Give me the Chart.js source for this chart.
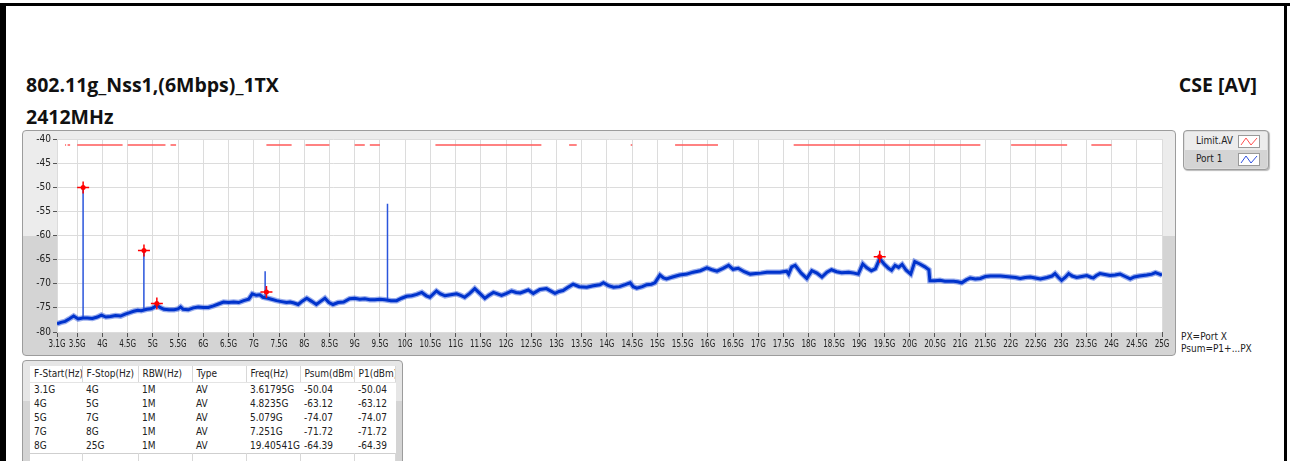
<!DOCTYPE html>
<html>
<head>
<meta charset="utf-8">
<script src="https://cdn.jsdelivr.net/npm/chart.js@4"></script>
<style>
  html, body { margin: 0; padding: 0; background: #fff; }
  body { width: 1290px; height: 461px; position: relative; overflow: hidden; font-family: "Open Sans", "Noto Sans", sans-serif; }
  .blk { position: absolute; background: #000; }
  .title { position: absolute; font-weight: bold; font-size: 19.5px; color: #111; white-space: nowrap; }
  .frame { position: absolute; left: 22px; top: 130px; width: 1152px; height: 224px; border: 1px solid #9c9c9c; border-radius: 4px;
           background: linear-gradient(#ececec 0, #ececec 105px, #d4d4d4 105px, #d4d4d4 100%); }
  #wrap { position: absolute; left: 22px; top: 131px; width: 1154px; height: 225px; }
  .legend { position: absolute; left: 1183px; top: 130px; width: 84px; height: 38px; border: 1px solid #9c9c9c; border-radius: 4px;
            background: #dcdcdc; box-shadow: 1px 1px 1px #bbb; font-family: "DejaVu Sans Condensed", sans-serif; font-size: 10px; color: #222; }
  .legend .row { position: absolute; left: 1px; width: 82px; height: 18px; }
  .legend .row span { position: absolute; left: 11px; top: 3px; }
  .legend svg { position: absolute; left: 53px; top: 3px; }
  .note { position: absolute; left: 1181px; font-family: "DejaVu Sans Condensed", sans-serif; font-size: 10px; color: #222; }
  .tframe { position: absolute; left: 22px; top: 360px; width: 379px; height: 110px; border: 1px solid #9c9c9c; border-radius: 4px;
            background: linear-gradient(#e6e6e6 0, #e6e6e6 40px, #d4d4d4 40px); }
  table { position: absolute; left: 30px; top: 366px; width: 365px; border-collapse: collapse; background: #fff; table-layout: fixed;
          font-family: "DejaVu Sans Condensed", sans-serif; font-size: 10px; color: #222; }
  td { height: 14px; padding: 0 0 0 4px; white-space: nowrap; overflow: hidden; line-height: 14px; }
  tr.head td { height: 16px; line-height: 16px; border-right: 1px solid #d8d8d8; border-bottom: 1px solid #e4e4e4; }
  tr.empty td { border-right: 1px solid #d8d8d8; border-top: 1px solid #cfcfcf; }
</style>
</head>
<body>
<div class="blk" style="left:0;top:3px;width:1290px;height:3px"></div>
<div class="blk" style="left:0;top:3px;width:6px;height:458px"></div>
<div class="blk" style="left:1284px;top:3px;width:3px;height:458px"></div>

<div class="title" style="left:26px;top:71px">802.11g_Nss1,(6Mbps)_1TX</div>
<div class="title" style="left:26px;top:103px">2412MHz</div>
<div class="title" style="right:33px;top:71px">CSE [AV]</div>

<div class="frame"></div>
<div id="wrap"><canvas id="chart"></canvas></div>

<div class="legend">
  <div class="row" style="top:1px;background:#ececec"><span>Limit.AV</span>
    <svg width="22" height="13"><rect x="0.5" y="0.5" width="21" height="12" fill="#fff" stroke="#999"/><polyline points="3,10 8,3 13,10 19,3" fill="none" stroke="#ff5050" stroke-width="1"/></svg></div>
  <div class="row" style="top:19px;background:#d4d4d4"><span>Port 1</span>
    <svg width="22" height="13"><rect x="0.5" y="0.5" width="21" height="12" fill="#fff" stroke="#999"/><polyline points="3,10 8,3 13,10 19,3" fill="none" stroke="#3050e0" stroke-width="1"/></svg></div>
</div>
<div class="note" style="top:331px">PX=Port X</div>
<div class="note" style="top:343px">Psum=P1+...PX</div>

<div class="tframe"></div>
<table id="tbl"></table>

<script>
// axis ticks
const X_TICKS_GHZ = [3.1, 3.5, 4, 4.5, 5, 5.5, 6, 6.5, 7, 7.5, 8, 8.5, 9, 9.5, 10, 10.5, 11, 11.5, 12, 12.5, 13, 13.5,
  14, 14.5, 15, 15.5, 16, 16.5, 17, 17.5, 18, 18.5, 19, 19.5, 20, 20.5, 21, 21.5, 22, 22.5, 23, 23.5, 24, 24.5, 25];
const Y_TICKS_DBM = [-80, -75, -70, -65, -60, -55, -50, -45, -40];

// Port 1 noise floor
const FREQ_GHZ = [
  3.10, 3.18, 3.26, 3.34, 3.43, 3.52, 3.61, 3.70, 3.80, 3.90, 3.98, 4.07, 4.16, 4.26, 4.36, 4.45, 4.54,
  4.62, 4.70, 4.77, 4.88, 4.96, 5.02, 5.08, 5.14, 5.22, 5.32, 5.42, 5.50, 5.55, 5.60, 5.70, 5.80, 5.90,
  6.00, 6.10, 6.20, 6.30, 6.40, 6.50, 6.60, 6.70, 6.80, 6.90, 6.97, 7.05, 7.12, 7.18, 7.28, 7.35,
  7.45, 7.55, 7.65, 7.72, 7.80, 7.88, 7.96, 8.05, 8.14, 8.24, 8.33, 8.41, 8.49, 8.57, 8.67, 8.78, 8.90, 9.00, 9.10, 9.20,
  9.30, 9.40, 9.50, 9.60, 9.72, 9.83, 9.93, 10.03, 10.13, 10.23, 10.33, 10.42, 10.49, 10.62, 10.70, 10.79, 10.90,
  11.02, 11.10, 11.18, 11.28, 11.38, 11.48, 11.58, 11.66, 11.75, 11.83, 11.91, 12.01, 12.11, 12.20, 12.28, 12.36, 12.44, 12.54, 12.67, 12.80,
  12.97, 13.05, 13.13, 13.22, 13.33, 13.45, 13.60, 13.73, 13.86, 13.93, 14.03, 14.13, 14.25, 14.36, 14.46, 14.52, 14.59, 14.70, 14.79, 14.88,
  14.95, 15.05, 15.12, 15.18, 15.30, 15.44, 15.58, 15.71, 15.85, 15.98, 16.08, 16.18, 16.30, 16.41, 16.50, 16.60, 16.72, 16.84, 16.95, 17.05,
  17.17, 17.30, 17.43, 17.56, 17.60, 17.66, 17.73, 17.85, 17.96, 18.06, 18.16, 18.26, 18.36, 18.45, 18.55, 18.65, 18.79, 18.90, 18.98, 19.07,
  19.15, 19.24, 19.32, 19.405, 19.50, 19.58, 19.64, 19.71, 19.78, 19.85, 19.93, 20.02, 20.10, 20.20, 20.30, 20.38, 20.40, 20.50, 20.60, 20.70,
  20.87, 20.95, 21.03, 21.12, 21.20, 21.30, 21.40, 21.50, 21.60, 21.70, 21.80, 21.90, 22.00, 22.10, 22.19, 22.29, 22.39, 22.49, 22.59, 22.72,
  22.82, 22.88, 22.95, 23.01, 23.08, 23.15, 23.22, 23.31, 23.41, 23.51, 23.60, 23.64, 23.70, 23.77, 23.87, 23.97, 24.07, 24.17, 24.27, 24.37,
  24.45, 24.55, 24.70, 24.80, 24.87, 24.95, 25.00
];
const PORT1_DBM = [
  -78.3, -78.0, -77.8, -77.3, -76.7, -77.3, -77.1, -77.1, -77.2, -76.9, -76.5, -76.9, -76.8, -76.6, -76.7, -76.3, -76.0,
  -75.7, -75.5, -75.6, -75.3, -75.2, -74.9, -74.4, -74.9, -75.3, -75.4, -75.4, -75.2, -74.8, -75.3, -75.4, -75.0, -74.8,
  -74.9, -74.9, -74.6, -74.2, -73.8, -73.9, -73.8, -73.9, -73.5, -73.2, -72.1, -72.4, -72.3, -72.8, -73.0, -73.2,
  -73.5, -73.7, -73.9, -73.8, -74.0, -74.3, -73.6, -73.0, -73.6, -74.3, -73.6, -73.0, -73.9, -74.3, -73.9, -73.8, -73.1, -73.0, -73.2, -73.1,
  -73.3, -73.3, -73.2, -73.3, -73.5, -73.5, -73.0, -72.6, -72.5, -72.2, -71.8, -72.5, -72.8, -71.5, -72.1, -72.5, -72.3,
  -72.1, -72.4, -72.8, -72.0, -71.0, -72.0, -73.0, -72.4, -71.8, -72.1, -72.4, -72.0, -71.5, -71.8, -71.9, -71.6, -71.3, -72.0, -71.2, -71.0,
  -72.0, -71.6, -71.4, -70.8, -70.1, -70.6, -70.7, -70.4, -70.2, -69.8, -70.4, -70.7, -70.6, -70.2, -69.8, -70.6, -70.9, -70.6, -70.2, -70.1,
  -69.8, -68.2, -68.8, -69.0, -68.6, -68.2, -68.0, -67.6, -67.3, -66.7, -67.1, -67.4, -66.8, -66.2, -67.0, -66.8, -67.5, -68.0, -67.9, -67.8,
  -67.6, -67.6, -67.6, -67.4, -68.0, -66.5, -66.2, -67.8, -68.9, -67.3, -67.8, -68.6, -67.6, -67.1, -67.5, -67.7, -67.6, -67.8, -68.0, -65.9,
  -66.7, -67.3, -66.9, -64.8, -66.0, -66.8, -67.2, -66.2, -66.6, -66.0, -67.2, -68.0, -65.4, -65.9, -66.5, -67.1, -69.4, -69.4, -69.3, -69.5,
  -69.5, -69.6, -69.8, -69.2, -68.8, -69.0, -68.9, -68.5, -68.4, -68.4, -68.4, -68.5, -68.6, -68.7, -68.9, -68.7, -68.6, -68.8, -69.0, -68.7,
  -68.4, -67.9, -68.7, -69.3, -68.7, -67.9, -68.4, -68.7, -68.5, -68.3, -68.7, -68.8, -68.3, -67.9, -68.1, -68.3, -68.2, -68.0, -68.5, -69.0,
  -68.6, -68.4, -68.2, -68.0, -67.7, -68.0, -68.2
];

// narrow spurs on top of the floor
const SPUR_FREQ_GHZ = [3.617, 4.822, 7.225, 9.650];
const SPUR_BASE_DBM = [-77.1, -75.5, -72.6, -73.3];
const SPUR_TOP_DBM = [-50.0, -63.1, -67.4, -53.4];

// Limit.AV, drawn only inside these bands
const LIMIT_AV_DBM = -41.25;
const LIMIT_START_GHZ = [3.26, 3.31, 3.5, 4.5, 5.35, 7.25, 8.025, 9.0, 9.3, 10.6, 13.25, 14.47, 15.35, 17.7, 22.01, 23.6];
const LIMIT_STOP_GHZ  = [3.28, 3.36, 4.4, 5.25, 5.46, 7.75, 8.5, 9.2, 9.5, 12.7, 13.4, 14.5, 16.2, 21.4, 23.12, 24.0];

// markers / table
const F_START = ['3.1G', '4G', '5G', '7G', '8G'];
const F_STOP = ['4G', '5G', '7G', '8G', '25G'];
const RBW = ['1M', '1M', '1M', '1M', '1M'];
const TYPE = ['AV', 'AV', 'AV', 'AV', 'AV'];
const MARKER_FREQ_GHZ = [3.61795, 4.8235, 5.079, 7.251, 19.40541];
const MARKER_FREQ_TXT = ['3.61795G', '4.8235G', '5.079G', '7.251G', '19.40541G'];
const PSUM_DBM = [-50.04, -63.12, -74.07, -71.72, -64.39];
const P1_DBM = [-50.04, -63.12, -74.07, -71.72, -64.39];
const HEADERS = ['F-Start(Hz)', 'F-Stop(Hz)', 'RBW(Hz)', 'Type', 'Freq(Hz)', 'Psum(dBm)', 'P1(dBm)'];
const COL_W = [52, 56, 54, 54, 54, 54, 41];

const TICK_FONT = '10px "DejaVu Sans Condensed", sans-serif';

const trace = FREQ_GHZ.map((f, i) => ({ x: f, y: PORT1_DBM[i] }));
const markers = MARKER_FREQ_GHZ.map((f, i) => ({ x: f, y: P1_DBM[i] }));
const spurs = [];
SPUR_FREQ_GHZ.forEach((f, i) => {
    spurs.push({ x: f, y: SPUR_BASE_DBM[i] }, { x: f, y: SPUR_TOP_DBM[i] }, { x: f, y: null });
});
const limit = [];
LIMIT_START_GHZ.forEach((f, i) => {
    limit.push({ x: f, y: LIMIT_AV_DBM }, { x: LIMIT_STOP_GHZ[i], y: LIMIT_AV_DBM }, { x: LIMIT_STOP_GHZ[i], y: null });
});

const plotBg = {
    id: 'plotBg',
    beforeDraw(chart) {
        const { ctx, chartArea: a } = chart;
        ctx.save();
        ctx.fillStyle = '#fff';
        ctx.fillRect(a.left, a.top, a.right - a.left, a.bottom - a.top);
        ctx.restore();
    }
};

// the x labels are narrow in the original, so squeeze them a bit
const narrowTicks = {
    id: 'narrowTicks',
    afterDraw(chart) {
        const { ctx, scales: { x } } = chart;
        ctx.save();
        ctx.font = TICK_FONT;
        ctx.fillStyle = '#222';
        ctx.textAlign = 'center';
        ctx.textBaseline = 'top';
        for (const v of X_TICKS_GHZ) {
            const px = x.getPixelForValue(v);
            ctx.save();
            ctx.translate(px, x.top + 7);
            ctx.scale(0.8, 1);
            ctx.fillText(v + 'G', 0, 0);
            ctx.restore();
        }
        ctx.restore();
    }
};

new Chart(document.getElementById('chart'), {
    type: 'scatter',
    data: {
        datasets: [
            { data: markers, pointStyle: 'circle', pointRadius: 2.5, backgroundColor: '#ff0000', borderWidth: 0 },
            { data: markers, pointStyle: 'cross', pointRadius: 6, borderColor: '#ff0000', borderWidth: 1.5 },
            { data: trace, showLine: true, pointRadius: 0, borderColor: '#0033cc', borderWidth: 3 },
            { data: trace, showLine: true, pointRadius: 0, borderColor: 'rgba(50,90,220,0.5)', borderWidth: 5.5 },
            { data: spurs, showLine: true, spanGaps: false, pointRadius: 0, borderColor: '#2a55dc', borderWidth: 1.5 },
            { data: limit, showLine: true, spanGaps: false, pointRadius: 0, borderColor: '#ff5a5a', borderWidth: 1.5 }
        ]
    },
    options: {
        responsive: true,
        maintainAspectRatio: false,
        animation: false,
        events: [],
        layout: { padding: { top: 6, right: 14, left: 0, bottom: 0 } },
        plugins: { legend: { display: false }, tooltip: { enabled: false } },
        scales: {
            x: {
                type: 'linear', min: 3.1, max: 25,
                afterBuildTicks: s => { s.ticks = X_TICKS_GHZ.map(v => ({ value: v })); },
                afterFit: s => { s.height = 24; },
                grid: { color: '#dcdcdc', tickColor: '#555', tickLength: 5 },
                border: { display: false },
                ticks: { autoSkip: false, maxRotation: 0, display: false }
            },
            y: {
                min: -80, max: -40,
                afterBuildTicks: s => { s.ticks = Y_TICKS_DBM.map(v => ({ value: v })); },
                afterFit: s => { s.width = 35; },
                grid: { color: '#dcdcdc', tickColor: '#555', tickLength: 4 },
                border: { display: false },
                ticks: { padding: 2, color: '#222', font: { family: '"DejaVu Sans Condensed", sans-serif', size: 10 } }
            }
        }
    },
    plugins: [plotBg, narrowTicks]
});

// table
const tbl = document.getElementById('tbl');
let html = '<colgroup>' + COL_W.map(w => '<col style="width:' + w + 'px">').join('') + '</colgroup>';
html += '<tr class="head">' + HEADERS.map(h => '<td>' + h + '</td>').join('') + '</tr>';
F_START.forEach((s, i) => {
    html += '<tr>' + [s, F_STOP[i], RBW[i], TYPE[i], MARKER_FREQ_TXT[i], PSUM_DBM[i].toFixed(2), P1_DBM[i].toFixed(2)]
        .map(c => '<td>' + c + '</td>').join('') + '</tr>';
});
html += '<tr class="empty">' + HEADERS.map(() => '<td></td>').join('') + '</tr>';
tbl.innerHTML = html;
</script>
</body>
</html>
